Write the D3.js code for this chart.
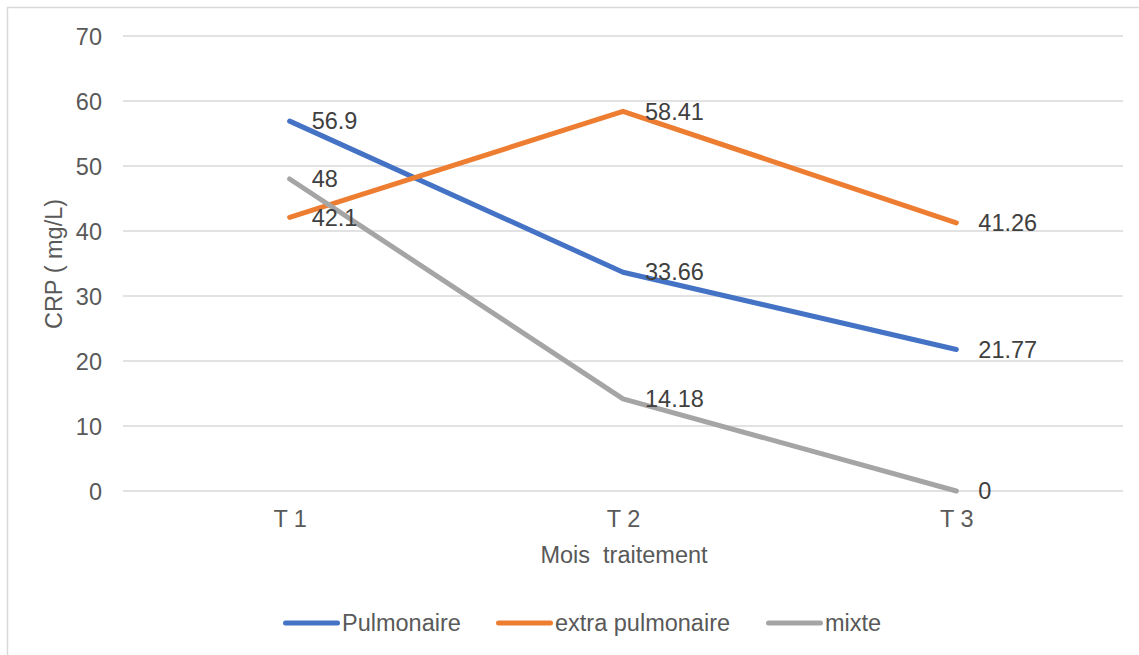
<!DOCTYPE html>
<html><head><meta charset="utf-8">
<script src="https://cdn.jsdelivr.net/npm/d3@7"></script>
<style>body{margin:0;background:#fff}svg{display:block}text{font-family:"Liberation Sans",Arial,sans-serif;white-space:pre}</style>
</head><body>
<svg id="c" width="1139" height="655"></svg>
<script>
const categories = ["T 1", "T 2", "T 3"];
const pulmonaire = [56.9, 33.66, 21.77];
const extraPulmonaire = [42.1, 58.41, 41.26];
const mixte = [48, 14.18, 0];
const seriesNames = ["Pulmonaire", "extra pulmonaire", "mixte"];
const yTicks = [0, 10, 20, 30, 40, 50, 60, 70];

const series = [
  {name: seriesNames[0], values: pulmonaire, color: "#4472C4"},
  {name: seriesNames[1], values: extraPulmonaire, color: "#ED7D31"},
  {name: seriesNames[2], values: mixte, color: "#A5A5A5"}
];

const FS = 23.5;
const svg = d3.select("#c");
svg.append("rect").attr("x", 7.5).attr("y", 7.5).attr("width", 1160).attr("height", 700)
  .attr("fill", "#fff").attr("stroke", "#d9d9d9").attr("stroke-width", 1.5);

const x = d3.scalePoint().domain(categories).range([123, 1123]).padding(0.5);
const y = d3.scaleLinear().domain([0, 70]).range([491, 36]);

// gridlines
svg.append("g").selectAll("line").data(yTicks).join("line")
  .attr("x1", 123).attr("x2", 1123)
  .attr("y1", d => y(d)).attr("y2", d => y(d))
  .attr("stroke", "#d9d9d9").attr("stroke-width", 1.5);

// y axis
const ya = svg.append("g").attr("transform", "translate(123,0)")
  .call(d3.axisLeft(y).tickValues(yTicks).tickSize(0).tickPadding(21));
ya.select(".domain").remove();
ya.selectAll("text").attr("font-size", FS).attr("fill", "#595959").attr("dy", "0.35em");

// x axis
const xa = svg.append("g").attr("transform", "translate(0,491)")
  .call(d3.axisBottom(x).tickSize(0).tickPadding(19));
xa.select(".domain").remove();
xa.selectAll("text").attr("font-size", FS).attr("fill", "#595959");

// axis titles
svg.append("text").attr("x", 624).attr("y", 563).attr("text-anchor", "middle")
  .attr("font-size", FS).attr("fill", "#595959").text("Mois  traitement");
svg.append("text").attr("transform", "translate(62,264) rotate(-90)").attr("text-anchor", "middle")
  .attr("font-size", FS).attr("fill", "#595959").text("CRP ( mg/L)");

// lines
const line = d3.line().x((d, i) => x(categories[i])).y(d => y(d));
svg.append("g").selectAll("path").data(series).join("path")
  .attr("d", s => line(s.values))
  .attr("fill", "none").attr("stroke", s => s.color).attr("stroke-width", 5)
  .attr("stroke-linecap", "round").attr("stroke-linejoin", "round");

// data labels
series.forEach(s => {
  svg.append("g").selectAll("text").data(s.values).join("text")
    .attr("x", (d, i) => x(categories[i]) + 22)
    .attr("y", d => y(d)).attr("dy", "0.35em")
    .attr("font-size", FS).attr("fill", "#404040")
    .text(d => d);
});

// legend
const legX = [283, 496, 766];
const lg = svg.append("g");
series.forEach((s, i) => {
  lg.append("line").attr("x1", legX[i] + 2.5).attr("x2", legX[i] + 54.5)
    .attr("y1", 623).attr("y2", 623).attr("stroke", s.color).attr("stroke-width", 5)
    .attr("stroke-linecap", "round");
  lg.append("text").attr("x", legX[i] + 59).attr("y", 623).attr("dy", "0.35em")
    .attr("font-size", FS).attr("fill", "#595959").text(s.name);
});
</script>
</body></html>
